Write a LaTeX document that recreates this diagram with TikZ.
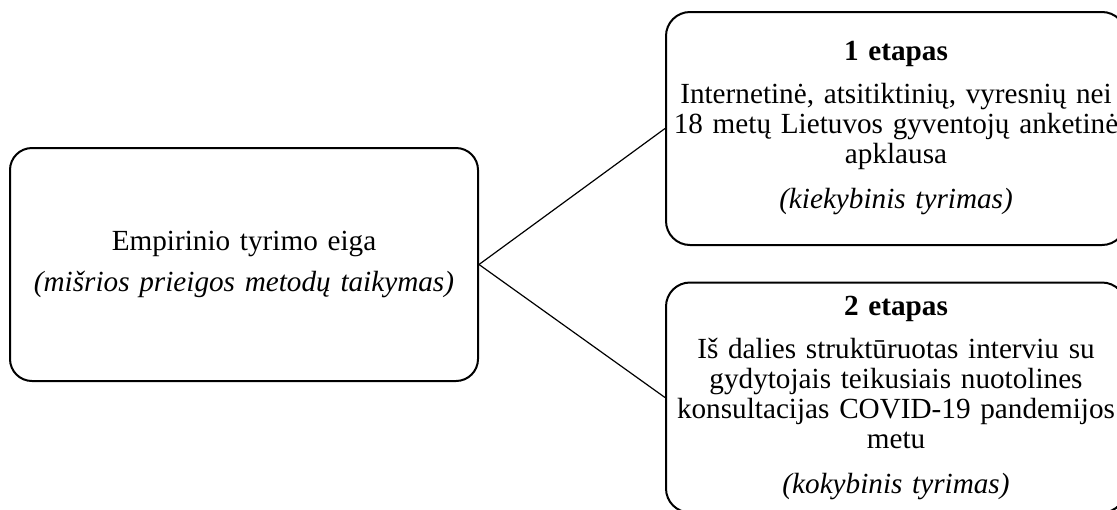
\documentclass[tikz,border=0pt]{standalone}
\usepackage{fontspec}
\setmainfont{Liberation Serif}
\usepackage{tikz}
\usetikzlibrary{positioning, calc}

\begin{document}
\begin{tikzpicture}[
    x=0.5pt, y=-0.5pt,
    main/.style={rectangle, rounded corners=11pt, draw=black, line width=1pt, minimum width=234pt, minimum height=116.5pt, text width=228pt, align=center, inner sep=0pt, font=\fontsize{14.6}{15}\selectfont},
    stage/.style={rectangle, rounded corners=12pt, draw=black, line width=1pt, minimum width=230pt, minimum height=116.5pt, text width=226pt, align=center, inner sep=0pt, font=\fontsize{14.6}{15}\selectfont},
    link/.style={draw=black, line width=0.6pt}
]
\useasboundingbox (0,0) rectangle (1117,509);
\clip (0,0) rectangle (1117,509);

% Left: overall course of the study
\node[main] (eiga) at (244,264.5) {Empirinio tyrimo eiga\\[5.5pt]\textit{(mišrios prieigos metodų taikymas)}};

% Right: the two stages
\node[stage, anchor=west] (etapas1) at (665,128.5) {\textbf{1 etapas}\\[6.5pt]Internetinė, atsitiktinių, vyresnių nei\\18 metų Lietuvos gyventojų anketinė\\apklausa\\[7.5pt]\textit{(kiekybinis tyrimas)}};
\node[stage, anchor=west, minimum height=115pt] (etapas2) at (665,397.5) {\textbf{2 etapas}\\[6.5pt]Iš dalies struktūruotas interviu su\\gydytojais teikusiais nuotolines\\konsultacijas COVID-19 pandemijos\\metu\\[7.5pt]\textit{(kokybinis tyrimas)}};

% Connectors
\draw[link] (eiga.east) -- (etapas1.west);
\draw[link] (eiga.east) -- (etapas2.west);

\end{tikzpicture}
\end{document}
